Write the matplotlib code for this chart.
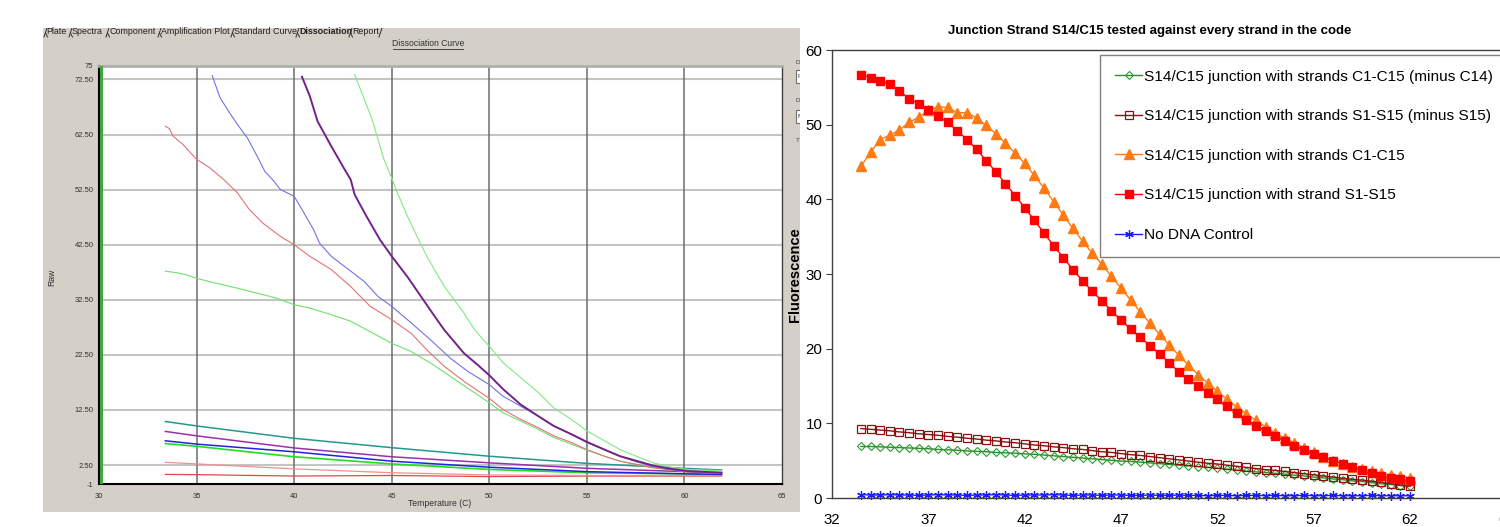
import numpy as np
import matplotlib
matplotlib.use("Agg")
import matplotlib.pyplot as plt
from matplotlib.lines import Line2D
from matplotlib.patches import Rectangle

# ---------------- data: left panel (instrument screenshot, "Raw" vs Temperature) -------------
A_T = [43.1, 44.0, 44.6, 45.0, 45.3, 45.8, 46.3, 46.8, 47.3, 47.7, 48.2, 48.7, 49.2, 49.7, 50.0,
       50.7, 51.6, 52.5, 53.3, 54.2, 55.0, 55.9, 56.7, 57.6, 58.4, 59.3, 60.2, 61.9]
A_V = [73.4, 65.2, 58.0, 54.6, 51.9, 47.7, 44.0, 40.4, 37.3, 34.9, 32.5, 30.1, 27.3, 25.2, 24.1,
       21.1, 18.4, 15.7, 12.9, 10.8, 8.7, 6.9, 5.3, 4.0, 2.9, 2.1, 1.7, 1.5]
B_T = [40.4, 40.8, 41.2, 41.9, 42.5, 42.9, 43.1, 43.7, 44.4, 45.0, 45.8, 46.5, 47.2, 47.7, 48.7,
       49.4, 50.0, 50.7, 51.6, 52.5, 53.3, 54.2, 55.0, 55.9, 56.7, 57.6, 58.4, 59.3, 60.2, 61.9]
B_V = [73.0, 69.5, 64.9, 60.4, 56.7, 54.3, 51.6, 47.7, 43.4, 40.4, 36.7, 33.1, 29.5, 27.0, 22.8,
       20.7, 18.8, 16.3, 13.5, 11.4, 9.6, 8.1, 6.7, 5.3, 4.1, 3.2, 2.4, 1.8, 1.4, 1.1]
C_T = [35.8, 36.2, 36.7, 37.1, 37.6, 38.1, 38.5, 38.9, 39.3, 40.0, 40.5, 41.0, 41.3, 41.9, 42.9,
       43.6, 44.3, 45.0, 46.0, 47.0, 48.0, 48.9, 50.0, 50.7, 51.6, 52.5, 53.3, 54.2, 55.0, 55.9,
       56.7, 57.6, 58.4, 59.3, 60.2, 61.9]
C_V = [73.2, 69.2, 66.4, 64.3, 61.9, 58.6, 55.8, 54.3, 52.5, 51.3, 48.3, 45.2, 42.8, 40.4, 37.7,
       35.8, 33.1, 31.3, 28.3, 25.2, 21.9, 19.5, 17.1, 15.0, 13.2, 11.4, 9.6, 8.1, 6.6, 5.3,
       4.1, 3.0, 2.3, 1.7, 1.3, 1.0]
D_T = [33.4, 33.6, 33.8, 34.3, 35.0, 35.7, 36.4, 37.1, 37.7, 38.4, 39.3, 40.0, 40.8, 41.9, 42.9,
       43.9, 45.0, 46.0, 46.8, 47.7, 48.7, 50.0, 50.7, 51.6, 52.5, 53.3, 54.2, 55.0, 55.9, 56.7,
       57.6, 58.4, 59.3, 60.2, 61.9]
D_V = [64.0, 63.6, 62.2, 60.7, 58.0, 56.4, 54.3, 51.9, 48.9, 46.4, 44.0, 42.5, 40.4, 38.0, 34.9,
       31.3, 28.9, 26.4, 23.4, 20.4, 17.7, 14.6, 12.6, 10.8, 9.3, 7.8, 6.6, 5.3, 4.1, 3.2,
       2.6, 2.0, 1.6, 1.2, 1.0]
E_T = [33.4, 34.0, 34.5, 35.0, 36.0, 37.1, 38.1, 39.1, 40.0, 40.8, 41.9, 42.9, 43.9, 45.0, 46.0,
       47.0, 48.0, 49.0, 50.0, 50.7, 51.6, 52.5, 53.3, 54.2, 55.0, 55.9, 56.7, 57.6, 58.4, 59.3,
       60.2, 61.9]
E_V = [37.7, 37.4, 37.0, 36.4, 35.5, 34.6, 33.7, 32.8, 31.6, 31.0, 29.8, 28.6, 26.7, 24.6, 23.1,
       21.0, 18.6, 16.2, 13.8, 12.0, 10.5, 9.0, 7.5, 6.3, 5.2, 4.1, 3.2, 2.5, 2.0, 1.7,
       1.5, 1.4]
LOW_T = [33.4, 35.0, 40.0, 45.0, 50.0, 55.0, 60.0, 61.9]
F_V = [10.4, 9.6, 7.35, 5.65, 4.1, 2.8, 1.9, 1.6]
G_V = [8.6, 7.8, 5.6, 4.0, 2.9, 1.9, 1.3, 1.1]
H_V = [6.9, 6.3, 4.9, 3.2, 2.1, 1.3, 0.9, 0.8]
I_V = [6.4, 5.9, 4.0, 2.7, 1.7, 1.1, 0.9, 0.8]
J_V = [3.0, 2.7, 1.8, 1.1, 0.7, 0.6, 0.6, 0.6]
K_V = [0.8, 0.75, 0.5, 0.6, 0.4, 0.5, 0.5, 0.5]

L_YTICKS = [-1, 2.5, 12.5, 22.5, 32.5, 42.5, 52.5, 62.5, 72.5, 75]
L_YLABELS = ["-1", "2.50", "12.50", "22.50", "32.50", "42.50", "52.50", "62.50", "72.50", "75"]
L_XTICKS = [30, 35, 40, 45, 50, 55, 60, 65]
TABS = ["Plate", "Spectra", "Component", "Amplification Plot", "Standard Curve", "Dissociation", "Report"]

# ---------------- data: right panel (Excel chart) ----------------
RT = [33.5, 34.0, 34.5, 35.0, 35.5, 36.0, 36.5, 37.0, 37.5, 38.0, 38.5, 39.0, 39.5, 40.0, 40.5,
      41.0, 41.5, 42.0, 42.5, 43.0, 43.5, 44.0, 44.5, 45.0, 45.5, 46.0, 46.5, 47.0, 47.5, 48.0,
      48.5, 49.0, 49.5, 50.0, 50.5, 51.0, 51.5, 52.0, 52.5, 53.0, 53.5, 54.0, 54.5, 55.0, 55.5,
      56.0, 56.5, 57.0, 57.5, 58.0, 58.5, 59.0, 59.5, 60.0, 60.5, 61.0, 61.5, 62.0]
GREEN = [6.9, 6.9, 6.85, 6.8, 6.75, 6.7, 6.65, 6.6, 6.5, 6.45, 6.4, 6.3, 6.25, 6.2, 6.1,
         6.05, 6.0, 5.9, 5.85, 5.75, 5.65, 5.55, 5.45, 5.35, 5.25, 5.15, 5.05, 4.95, 4.9, 4.8,
         4.7, 4.6, 4.5, 4.4, 4.3, 4.2, 4.1, 4.0, 3.85, 3.75, 3.6, 3.5, 3.4, 3.3, 3.2,
         3.05, 2.95, 2.8, 2.7, 2.55, 2.45, 2.3, 2.2, 2.05, 1.9, 1.8, 1.65, 1.55]
BROWN = [9.3, 9.2, 9.1, 9.0, 8.85, 8.75, 8.6, 8.5, 8.4, 8.25, 8.15, 8.0, 7.9, 7.75, 7.65,
         7.5, 7.4, 7.25, 7.1, 7.0, 6.85, 6.75, 6.6, 6.5, 6.35, 6.2, 6.1, 5.95, 5.8, 5.7,
         5.55, 5.4, 5.25, 5.1, 4.95, 4.8, 4.65, 4.55, 4.4, 4.25, 4.1, 3.95, 3.8, 3.7, 3.55,
         3.4, 3.25, 3.1, 2.95, 2.8, 2.65, 2.5, 2.4, 2.25, 2.1, 1.9, 1.75, 1.6]
ORANGE = [44.4, 46.3, 48.0, 48.6, 49.3, 50.3, 51.0, 51.9, 52.4, 52.3, 51.6, 51.6, 50.9, 49.9, 48.8,
          47.5, 46.2, 44.8, 43.2, 41.5, 39.7, 37.9, 36.1, 34.4, 32.8, 31.3, 29.7, 28.1, 26.5, 24.9,
          23.4, 21.9, 20.5, 19.1, 17.8, 16.5, 15.4, 14.3, 13.2, 12.2, 11.3, 10.4, 9.5, 8.7, 8.0,
          7.4, 6.7, 6.1, 5.5, 5.0, 4.6, 4.2, 3.9, 3.6, 3.3, 3.1, 2.9, 2.7]
RED = [56.7, 56.3, 55.9, 55.4, 54.5, 53.5, 52.8, 52.0, 51.2, 50.3, 49.2, 48.0, 46.7, 45.2, 43.7,
       42.1, 40.5, 38.9, 37.2, 35.5, 33.8, 32.2, 30.6, 29.1, 27.7, 26.4, 25.1, 23.8, 22.6, 21.5,
       20.4, 19.3, 18.1, 16.9, 15.9, 15.0, 14.1, 13.2, 12.3, 11.4, 10.5, 9.7, 9.0, 8.3, 7.6,
       7.0, 6.4, 5.9, 5.5, 5.0, 4.6, 4.1, 3.7, 3.3, 3.0, 2.7, 2.5, 2.3]
BLUE = [0.45, 0.4, 0.4, 0.45, 0.4, 0.4, 0.35, 0.4, 0.45, 0.4, 0.4, 0.35, 0.4, 0.4, 0.45,
        0.4, 0.35, 0.4, 0.4, 0.4, 0.45, 0.4, 0.35, 0.4, 0.4, 0.35, 0.4, 0.4, 0.35, 0.35,
        0.4, 0.35, 0.35, 0.4, 0.35, 0.35, 0.3, 0.35, 0.35, 0.3, 0.35, 0.35, 0.3, 0.35, 0.3,
        0.3, 0.35, 0.3, 0.3, 0.35, 0.3, 0.3, 0.3, 0.35, 0.3, 0.3, 0.3, 0.3]
LABELS = ["S14/C15 junction with strands C1-C15 (minus C14)",
          "S14/C15 junction with strands S1-S15 (minus S15)",
          "S14/C15 junction with strands C1-C15",
          "S14/C15 junction with strand S1-S15",
          "No DNA Control"]
TITLE = "Junction Strand S14/C15 tested against every strand in the code"
R_YTICKS = [0, 10, 20, 30, 40, 50, 60]
R_XTICKS = [32, 37, 42, 47, 52, 57, 62, 67]

plt.rcParams["font.family"] = ["Liberation Sans", "DejaVu Sans"]

W, H = 1500, 527
fig = plt.figure(figsize=(15, 5.27), dpi=100)
fig.patch.set_facecolor("white")


def rect_axes(x0, y0, x1, y1):
    return fig.add_axes([x0 / W, 1 - y1 / H, (x1 - x0) / W, (y1 - y0) / H])


# ---------------- left panel background (pixel coordinates) ----------------
bg = rect_axes(43, 28, 800, 512)
bg.set_xlim(43, 800)
bg.set_ylim(512, 28)
bg.set_xticks([])
bg.set_yticks([])
for s in bg.spines.values():
    s.set_visible(False)
bg.set_facecolor("#d4d0c8")

tab_x = [46, 72, 109, 161, 234, 299, 352]
for lbl, x in zip(TABS, tab_x):
    bg.text(x, 32, lbl, fontsize=6.4, color="#202020", va="center", ha="left",
            weight="bold" if lbl == "Dissociation" else "normal")
for x in [44, 69, 106, 158, 231, 296, 349]:
    bg.plot([x, x + 3], [37, 28], color="#303030", lw=0.7)
    bg.plot([x + 1.5, x + 3.5], [33, 37], color="#303030", lw=0.7)
bg.plot([379, 382], [37, 28], color="#303030", lw=0.7)
bg.text(428, 44, "Dissociation Curve", fontsize=6.2, color="#303030", ha="center", va="center")
bg.plot([393, 463], [48.5, 48.5], color="#303030", lw=0.6)
bg.text(440, 504, "Temperature (C)", fontsize=6.2, color="#303030", ha="center", va="center")
bg.text(52, 277, "Raw", fontsize=6.2, color="#303030", ha="center", va="center", rotation=90)
# clipped side widgets
for y, ch in [(62, "D"), (101, "D"), (140, "T")]:
    bg.text(796, y, ch, fontsize=4.5, color="#404040", ha="left", va="center", clip_on=True)
for y, ch in [(70, "F"), (110, "M")]:
    bg.add_patch(Rectangle((795.5, y), 10, 13, facecolor="white", edgecolor="#707070", lw=0.8,
                           clip_on=True))
    bg.text(797, y + 6.5, ch, fontsize=4.5, color="#404040", ha="left", va="center", clip_on=True)

# ---------------- left plot ----------------
ax1 = rect_axes(99, 65.7, 782, 484.3)
ax1.set_facecolor("white")
ax1.set_xlim(30, 65)
ax1.set_ylim(-1, 75)
for yv in L_YTICKS[1:-1]:
    ax1.axhline(yv, color="#c4c4c4", lw=1.5, zorder=1)
for xv in L_XTICKS[1:-1]:
    ax1.axvline(xv, color="#6c6c6c", lw=1.1, zorder=1)
ax1.axvline(30.12, color="#3aa83a", lw=2.2, zorder=3)
ax1.set_yticks(L_YTICKS)
ax1.set_yticklabels(L_YLABELS)
ax1.set_xticks(L_XTICKS)
ax1.set_xticklabels([str(v) for v in L_XTICKS])
ax1.tick_params(length=0, labelsize=5.5, labelcolor="#303030")
ax1.tick_params(axis="y", pad=4)
ax1.tick_params(axis="x", pad=6)
ax1.spines["left"].set_color("black")
ax1.spines["left"].set_linewidth(1.5)
ax1.spines["bottom"].set_color("black")
ax1.spines["bottom"].set_linewidth(1.5)
ax1.spines["top"].set_color("#b0b0b0")
ax1.spines["top"].set_linewidth(2)
ax1.spines["right"].set_color("#404040")
ax1.spines["right"].set_linewidth(1)

ax1.plot(LOW_T, K_V, color="#e04848", lw=0.9, zorder=4)
ax1.plot(LOW_T, J_V, color="#f09090", lw=0.9, zorder=4)
ax1.plot(LOW_T, I_V, color="#22dd22", lw=1.2, zorder=4)
ax1.plot(LOW_T, H_V, color="#2323dd", lw=1.1, zorder=4)
ax1.plot(LOW_T, G_V, color="#9a30ad", lw=1.1, zorder=4)
ax1.plot(LOW_T, F_V, color="#23998c", lw=1.1, zorder=4)
ax1.plot(E_T, E_V, color="#6fe06f", lw=0.8, zorder=4)
ax1.plot(D_T, D_V, color="#e57272", lw=0.8, zorder=4)
ax1.plot(C_T, C_V, color="#7272e6", lw=0.8, zorder=4)
ax1.plot(A_T, A_V, color="#80ea80", lw=0.8, zorder=4)
ax1.plot(B_T, B_V, color="#74228a", lw=1.4, zorder=5)

# ---------------- right plot ----------------
x_left, x_scale = 832, 19.27
ax2 = rect_axes(x_left, 50, x_left + 35 * x_scale, 498)
ax2.set_xlim(32, 67)
ax2.set_ylim(0, 60)
for s in ax2.spines.values():
    s.set_color("#404040")
    s.set_linewidth(1)
ax2.set_yticks(R_YTICKS)
ax2.set_xticks(R_XTICKS)
ax2.tick_params(axis="both", direction="out", length=4, width=0.8, color="#404040",
                labelsize=10.8)
ax2.tick_params(axis="x", pad=11, length=0)
ax2.tick_params(axis="y", pad=3)

ms = dict(lw=1.0, clip_on=False)
ax2.plot(RT, GREEN, color="#2e8b2e", marker="D", ms=4.4, mfc="none", mec="#2e9a2e", mew=0.8,
         label=LABELS[0], **ms)
ax2.plot(RT, BROWN, color="#8b1010", marker="s", ms=6.0, mfc="none", mec="#8b1010", mew=0.9,
         label=LABELS[1], **ms)
ax2.plot(RT, ORANGE, color="#ff7a12", marker="^", ms=7.2, mfc="#ff7a12", mec="#ff7a12",
         label=LABELS[2], **ms)
ax2.plot(RT, RED, color="#ff0000", marker="s", ms=5.6, mfc="#ff0000", mec="#ff0000",
         label=LABELS[3], **ms)
ax2.plot(RT, BLUE, color="#1a1aff", marker=(6, 2, 0), ms=6.2, mec="#1a1aff", mew=0.9,
         label=LABELS[4], **ms)

handles, labels = ax2.get_legend_handles_labels()
leg = fig.legend(handles, labels, loc="upper left", bbox_to_anchor=(1100 / W, 1 - 55 / H),
                 frameon=True, fancybox=False, edgecolor="#808080", fontsize=11.1,
                 borderaxespad=0, borderpad=0.95, labelspacing=1.66, handlelength=1.8,
                 handletextpad=0.12, framealpha=1)
leg.get_frame().set_linewidth(1.0)

fig.text(1150 / W, 1 - 31 / H, TITLE, fontsize=9.5, weight="bold", ha="center", va="center")
fig.text(795 / W, 1 - 275 / H, "Fluorescence", fontsize=10.5, weight="bold", ha="center",
         va="center", rotation=90)

fig.savefig("out.png", dpi=100)
